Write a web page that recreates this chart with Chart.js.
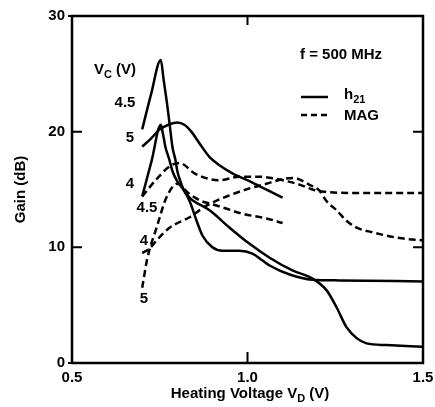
<!DOCTYPE html>
<html lang="en">
<head>
<meta charset="UTF-8">
<title>Gain vs heating voltage</title>
<script src="https://cdn.jsdelivr.net/npm/chart.js"></script>
<style>
  html, body { margin: 0; padding: 0; background: #fff; }
  #wrap { width: 435px; height: 407px; }
</style>
</head>
<body>
<div id="wrap"><canvas id="grafico" width="435" height="407"></canvas></div>
<script>
// axis ticks
const xTicks = [0.5, 1.0, 1.5];
const yTicks = [0, 10, 20, 30];

// h21 (solid), Vc = 4.5 V
const h21_45_vd   = [0.70, 0.725, 0.753, 0.761, 0.770, 0.778, 0.786, 0.795, 0.800, 0.809, 0.818, 0.835, 0.892, 0.949, 1.006, 1.063, 1.128, 1.185, 1.225, 1.254, 1.282, 1.311, 1.339, 1.396, 1.50];
const h21_45_gain = [20.2, 23.2, 26.2, 24.5, 22.6, 20.7, 18.7, 17.5, 16.6, 15.7, 15.0, 14.3, 13.2, 11.7, 10.3, 9.1, 8.0, 7.3, 6.3, 4.8, 3.1, 2.15, 1.7, 1.55, 1.4];

// h21 (solid), Vc = 5 V
const h21_5_vd   = [0.70, 0.725, 0.75, 0.775, 0.80, 0.82, 0.84, 0.863, 0.892, 0.92, 0.957, 1.014, 1.06, 1.10];
const h21_5_gain = [18.7, 19.4, 20.2, 20.6, 20.8, 20.6, 20.0, 19.0, 17.8, 17.1, 16.4, 15.6, 14.9, 14.3];

// h21 (solid), Vc = 4 V
const h21_4_vd   = [0.70, 0.727, 0.753, 0.758, 0.766, 0.778, 0.786, 0.80, 0.815, 0.835, 0.855, 0.872, 0.90, 0.929, 0.977, 1.014, 1.043, 1.063, 1.12, 1.185, 1.262, 1.50];
const h21_4_gain = [14.4, 17.5, 20.6, 20.0, 18.7, 17.5, 16.6, 15.7, 15.1, 14.0, 12.3, 11.0, 10.0, 9.7, 9.7, 9.46, 8.86, 8.43, 7.65, 7.2, 7.14, 7.05];

// MAG (dashed), Vc = 4.5 V
const mag_45_vd   = [0.70, 0.741, 0.778, 0.806, 0.849, 0.892, 0.92, 0.977, 1.034, 1.10, 1.15, 1.185, 1.22, 1.30, 1.40, 1.50];
const mag_45_gain = [14.4, 15.9, 17.0, 17.3, 16.4, 15.9, 15.8, 16.1, 16.1, 15.8, 15.4, 15.0, 14.8, 14.7, 14.7, 14.7];

// MAG (dashed), Vc = 4 V
const mag_4_vd   = [0.70, 0.721, 0.741, 0.778, 0.835, 0.883, 0.949, 1.006, 1.054, 1.10, 1.13, 1.177, 1.205, 1.225, 1.254, 1.282, 1.311, 1.356, 1.433, 1.50];
const mag_4_gain = [9.5, 9.9, 10.6, 11.7, 12.6, 13.6, 14.5, 15.1, 15.5, 15.9, 16.0, 15.4, 14.9, 14.0, 13.2, 12.3, 11.7, 11.3, 10.8, 10.6];

// MAG (dashed), Vc = 5 V
const mag_5_vd   = [0.70, 0.715, 0.741, 0.769, 0.80, 0.835, 0.869, 0.897, 0.934, 0.986, 1.054, 1.10];
const mag_5_gain = [6.5, 9.1, 11.7, 14.3, 15.5, 14.6, 14.0, 13.75, 13.4, 12.9, 12.5, 12.1];

const FONT = 'bold 15px "Liberation Sans", Arial, sans-serif';
const FONT_SUB = 'bold 11px "Liberation Sans", Arial, sans-serif';

function pts(xs, ys) {
    return xs.map((x, i) => ({ x: x, y: ys[i] }));
}

function curve(xs, ys, dashed) {
    return {
        data: pts(xs, ys),
        borderColor: '#000',
        borderWidth: 2.5,
        borderDash: dashed ? [7, 4] : [],
        pointRadius: 0,
        fill: false,
        cubicInterpolationMode: 'monotone'
    };
}

// text with subscripts: parts = [[text, isSub], ...]
function drawParts(ctx, parts, x, y, align) {
    let w = 0;
    parts.forEach(p => { ctx.font = p[1] ? FONT_SUB : FONT; w += ctx.measureText(p[0]).width; });
    let cx = align === 'center' ? x - w / 2 : x;
    ctx.textAlign = 'left';
    ctx.textBaseline = 'alphabetic';
    parts.forEach(p => {
        ctx.font = p[1] ? FONT_SUB : FONT;
        ctx.fillText(p[0], cx, p[1] ? y + 4 : y);
        cx += ctx.measureText(p[0]).width;
    });
}

const decor = {
    id: 'decor',
    afterDraw(chart) {
        const ctx = chart.ctx;
        const a = chart.chartArea;
        const xs = chart.scales.x, ys = chart.scales.y;
        ctx.save();
        ctx.strokeStyle = '#000';
        ctx.fillStyle = '#000';

        // frame
        ctx.lineWidth = 2.5;
        ctx.strokeRect(a.left, a.top, a.right - a.left, a.bottom - a.top);

        // inward ticks
        ctx.lineWidth = 2;
        ctx.beginPath();
        [10, 20].forEach(v => {
            const py = ys.getPixelForValue(v);
            ctx.moveTo(a.left, py); ctx.lineTo(a.left + 10, py);
            ctx.moveTo(a.right, py); ctx.lineTo(a.right - 10, py);
        });
        [0, 30].forEach(v => {
            const py = ys.getPixelForValue(v);
            ctx.moveTo(a.left - 4, py); ctx.lineTo(a.left, py);
        });
        const px1 = xs.getPixelForValue(1.0);
        ctx.moveTo(px1, a.bottom); ctx.lineTo(px1, a.bottom - 11);
        ctx.moveTo(px1, a.top); ctx.lineTo(px1, a.top + 9);
        ctx.stroke();

        // axis titles
        drawParts(ctx, [['Heating Voltage V', false], ['D', true], [' (V)', false]], 250, 398, 'center');
        ctx.save();
        ctx.translate(20, (a.top + a.bottom) / 2);
        ctx.rotate(-Math.PI / 2);
        drawParts(ctx, [['Gain (dB)', false]], 0, 5, 'center');
        ctx.restore();

        // annotation and legend
        drawParts(ctx, [['f = 500 MHz', false]], 300, 59, 'left');
        ctx.lineWidth = 2.5;
        ctx.beginPath();
        ctx.setLineDash([]);
        ctx.moveTo(301, 97); ctx.lineTo(328, 97);
        ctx.stroke();
        ctx.beginPath();
        ctx.setLineDash([6, 4]);
        ctx.moveTo(301, 115); ctx.lineTo(328, 115);
        ctx.stroke();
        ctx.setLineDash([]);
        drawParts(ctx, [['h', false], ['21', true]], 344, 99, 'left');
        drawParts(ctx, [['MAG', false]], 344, 120, 'left');

        // Vc labels
        drawParts(ctx, [['V', false], ['C', true], [' (V)', false]], 94, 74, 'left');
        drawParts(ctx, [['4.5', false]], 125, 107, 'center');
        drawParts(ctx, [['5', false]], 130, 142, 'center');
        drawParts(ctx, [['4', false]], 130, 188, 'center');
        drawParts(ctx, [['4.5', false]], 147, 212, 'center');
        drawParts(ctx, [['4', false]], 144, 245, 'center');
        drawParts(ctx, [['5', false]], 144, 303, 'center');
        ctx.restore();
    }
};

const ctx = document.getElementById('grafico').getContext('2d');
const chart = new Chart(ctx, {
    type: 'line',
    data: {
        datasets: [
            curve(h21_45_vd, h21_45_gain, false),
            curve(h21_5_vd, h21_5_gain, false),
            curve(h21_4_vd, h21_4_gain, false),
            curve(mag_45_vd, mag_45_gain, true),
            curve(mag_4_vd, mag_4_gain, true),
            curve(mag_5_vd, mag_5_gain, true)
        ]
    },
    options: {
        responsive: false,
        animation: false,
        devicePixelRatio: 1,
        layout: { padding: { top: 14, right: 0, left: 0, bottom: 0 } },
        plugins: { legend: { display: false }, tooltip: { enabled: false } },
        scales: {
            x: {
                type: 'linear',
                min: 0.5,
                max: 1.5,
                afterBuildTicks: s => { s.ticks = xTicks.map(v => ({ value: v })); },
                afterFit: s => { s.height = 44; s.paddingRight = 12; },
                grid: { display: false, drawTicks: false },
                border: { display: false },
                ticks: {
                    color: '#000',
                    padding: 6,
                    maxRotation: 0,
                    font: { family: '"Liberation Sans", Arial, sans-serif', size: 15, weight: 'bold' },
                    callback: v => v.toFixed(1)
                }
            },
            y: {
                min: 0,
                max: 30,
                afterBuildTicks: s => { s.ticks = yTicks.map(v => ({ value: v })); },
                afterFit: s => { s.width = 72; },
                grid: { display: false, drawTicks: false },
                border: { display: false },
                ticks: {
                    color: '#000',
                    padding: 7,
                    font: { family: '"Liberation Sans", Arial, sans-serif', size: 15, weight: 'bold' },
                    callback: v => String(v)
                }
            }
        }
    },
    plugins: [decor]
});
</script>
</body>
</html>
